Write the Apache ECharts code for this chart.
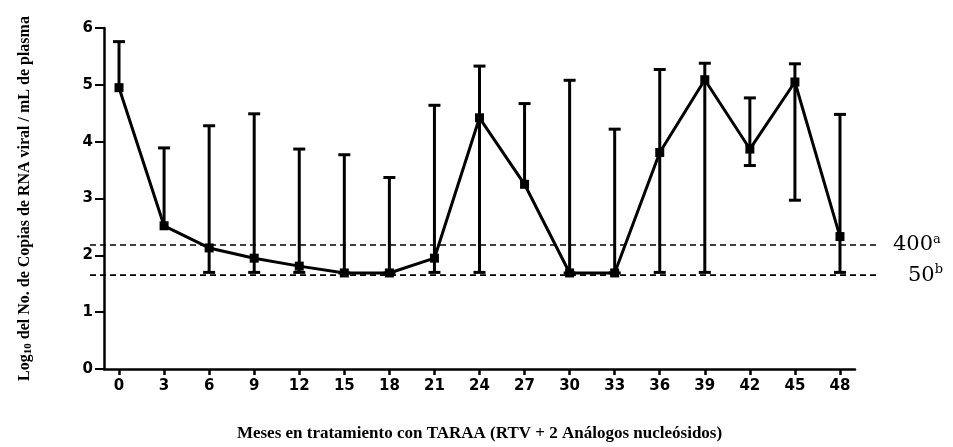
<!DOCTYPE html>
<html>
<head>
<meta charset="utf-8">
<script src="https://cdn.jsdelivr.net/npm/echarts@6/dist/echarts.min.js"></script>
<style>
  html, body { margin: 0; padding: 0; background: #fff; }
  #chart { width: 953px; height: 447px; }
</style>
</head>
<body>
<div id="chart"></div>
<script>
// meses de tratamiento
const months = [0, 3, 6, 9, 12, 15, 18, 21, 24, 27, 30, 33, 36, 39, 42, 45, 48]
// log10 copias RNA viral / mL (media)
const meanLog = [4.95, 2.52, 2.13, 1.95, 1.81, 1.69, 1.69, 1.95, 4.42, 3.25, 1.69, 1.69, 3.81, 5.09, 3.87, 5.05, 2.33]
// extremos de las barras de error (null = sin barra inferior)
const upperLog = [5.76, 3.89, 4.28, 4.49, 3.87, 3.77, 3.37, 4.64, 5.33, 4.67, 5.08, 4.22, 5.27, 5.38, 4.77, 5.37, 4.48]
const lowerLog = [null, null, 1.70, 1.70, 1.70, 1.69, 1.69, 1.70, 1.70, null, 1.69, 1.69, 1.70, 1.70, 3.58, 2.97, 1.70]
// límites de detección
const limitValues = [2.215, 1.69]
const limitLabels = ['400', '50']
const limitSup = ['a', 'b']
const yTicks = [0, 1, 2, 3, 4, 5, 6]

const chart = echarts.init(document.getElementById('chart'))

// barras de error con remate en los extremos
function renderErrorBar(params, api) {
  const x = api.value(0)
  const hasLow = api.value(3) === 1
  const top = api.coord([x, api.value(2)])
  const bot = api.coord([x, api.value(1)])
  const half = 6
  const style = { stroke: '#000', lineWidth: 3 }
  const children = [
    { type: 'line', shape: { x1: top[0], y1: top[1], x2: bot[0], y2: bot[1] }, style },
    { type: 'line', shape: { x1: top[0] - half, y1: top[1], x2: top[0] + half, y2: top[1] }, style }
  ]
  if (hasLow) {
    children.push({ type: 'line', shape: { x1: bot[0] - half, y1: bot[1], x2: bot[0] + half, y2: bot[1] }, style })
  }
  return { type: 'group', children }
}

const tickFont = { fontFamily: 'DejaVu Sans', fontWeight: 'bold', fontSize: 15, color: '#000' }

const options = {
  animation: false,
  backgroundColor: '#fff',
  grid: [
    { left: 104, right: 98, top: 28, bottom: 75 },
    // rejilla auxiliar para las líneas discontinuas (más ancha que los ejes)
    { left: 90, right: 73, top: 28, bottom: 75 }
  ],
  xAxis: [
    {
      type: 'value',
      gridIndex: 0,
      min: -1,
      max: 49,
      name: 'Meses en tratamiento con TARAA (RTV + 2 Análogos nucleósidos)',
      nameLocation: 'middle',
      nameGap: 56,
      nameTextStyle: { fontFamily: 'Liberation Serif', fontWeight: 'bold', fontSize: 17, color: '#000' },
      axisLine: { onZero: false, lineStyle: { color: '#000', width: 2.5 } },
      axisTick: { customValues: months, length: 6, lineStyle: { color: '#000', width: 2.5 } },
      axisLabel: { customValues: months, margin: 10, ...tickFont },
      splitLine: { show: false }
    },
    { type: 'value', gridIndex: 1, min: 0, max: 1, show: false }
  ],
  yAxis: [
    {
      type: 'value',
      gridIndex: 0,
      min: 0,
      max: 6,
      interval: 1,
      name: 'Log{sub|10} del No. de Copias de RNA viral / mL de plasma',
      nameLocation: 'middle',
      nameRotate: 90,
      nameGap: 70,
      nameTextStyle: {
        fontFamily: 'Liberation Serif',
        fontWeight: 'bold',
        fontSize: 16,
        color: '#000',
        rich: {
          sub: { fontFamily: 'Liberation Serif', fontWeight: 'bold', fontSize: 11, color: '#000', padding: [8, 0, 0, 0] }
        }
      },
      axisLine: { show: true, onZero: false, lineStyle: { color: '#000', width: 2.5 } },
      axisTick: { show: true, length: 9, lineStyle: { color: '#000', width: 2 } },
      axisLabel: { margin: 11, ...tickFont, formatter: v => (yTicks.includes(v) ? String(v) : '') },
      splitLine: { show: false }
    },
    { type: 'value', gridIndex: 1, min: 0, max: 6, show: false }
  ],
  series: [
    ...limitValues.map((v, i) => ({
      type: 'line',
      xAxisIndex: 1,
      yAxisIndex: 1,
      data: [[0, v], [1, v]],
      symbol: 'none',
      lineStyle: { color: '#000', width: 1.6, type: [6, 4] },
      silent: true,
      endLabel: {
        show: true,
        distance: i === 0 ? 13 : 28,
        formatter: '{n|' + limitLabels[i] + '}{s|' + limitSup[i] + '}',
        rich: {
          n: { fontFamily: 'DejaVu Serif', fontSize: 21, color: '#000' },
          s: { fontFamily: 'DejaVu Serif', fontSize: 13, color: '#000', padding: [0, 0, 10, 0] }
        }
      }
    })),
    {
      type: 'custom',
      xAxisIndex: 0,
      yAxisIndex: 0,
      renderItem: renderErrorBar,
      data: months.map((m, i) => [m, lowerLog[i] === null ? meanLog[i] : lowerLog[i], upperLog[i], lowerLog[i] === null ? 0 : 1]),
      z: 3
    },
    {
      type: 'line',
      xAxisIndex: 0,
      yAxisIndex: 0,
      data: months.map((m, i) => [m, meanLog[i]]),
      symbol: 'rect',
      symbolSize: 9,
      itemStyle: { color: '#000' },
      lineStyle: { color: '#000', width: 3 },
      z: 4
    }
  ]
}

chart.setOption(options)
</script>
</body>
</html>
